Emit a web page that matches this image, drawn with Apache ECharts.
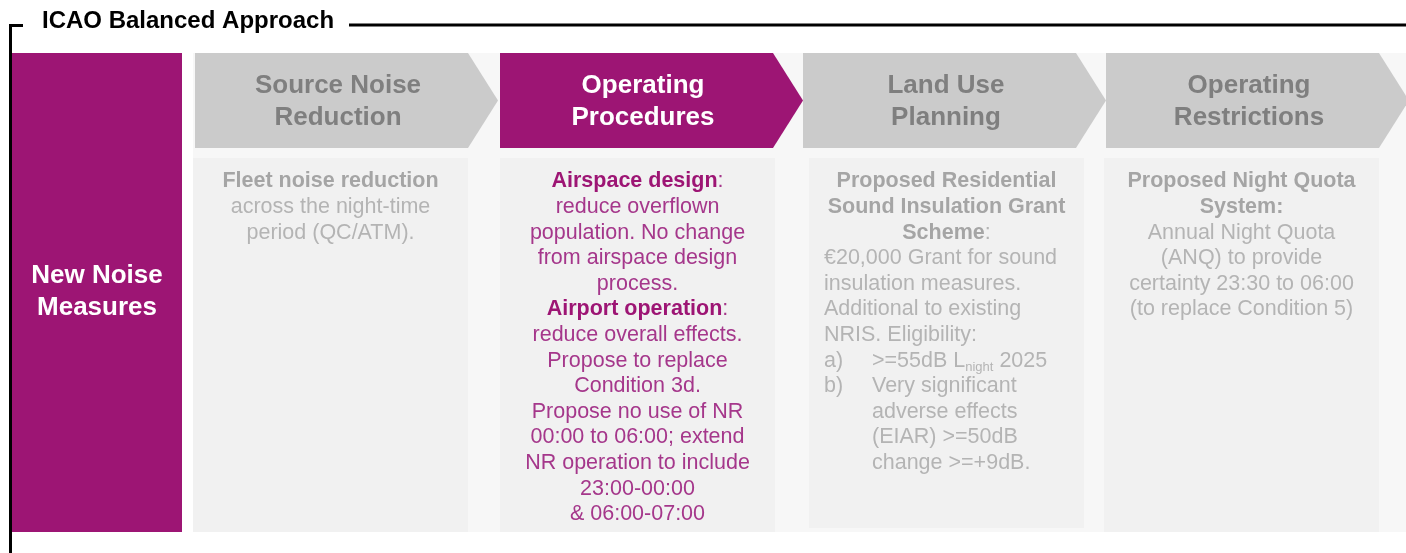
<!DOCTYPE html>
<html>
<head>
<meta charset="utf-8">
<script src="https://cdn.jsdelivr.net/npm/echarts@6/dist/echarts.min.js"></script>
<style>
  html, body { margin: 0; padding: 0; background: #fff; }
  #main { width: 1406px; height: 553px; }
</style>
</head>
<body>
<div id="main"></div>
<script>
// texts of the diagram
var frameTitle = 'ICAO Balanced Approach';
var rowLabel = 'New Noise\nMeasures';
var stages = ['Source Noise\nReduction', 'Operating\nProcedures', 'Land Use\nPlanning', 'Operating\nRestrictions'];
var highlighted = [false, true, false, false];

// one list of lines for each stage; a = c (centred), l (left), k (list key), i (indented)
var sourceLines = [
  { a: 'c', t: '{b|Fleet noise reduction}' },
  { a: 'c', t: 'across the night-time' },
  { a: 'c', t: 'period (QC/ATM).' }
];
var procedureLines = [
  { a: 'c', t: '{b|Airspace design}:' },
  { a: 'c', t: 'reduce overflown' },
  { a: 'c', t: 'population. No change' },
  { a: 'c', t: 'from airspace design' },
  { a: 'c', t: 'process.' },
  { a: 'c', t: '{b|Airport operation}:' },
  { a: 'c', t: 'reduce overall effects.' },
  { a: 'c', t: 'Propose to replace' },
  { a: 'c', t: 'Condition 3d.' },
  { a: 'c', t: 'Propose no use of NR' },
  { a: 'c', t: '00:00 to 06:00; extend' },
  { a: 'c', t: 'NR operation to include' },
  { a: 'c', t: '23:00-00:00' },
  { a: 'c', t: '& 06:00-07:00' }
];
var landUseLines = [
  { a: 'c', t: '{b|Proposed Residential}' },
  { a: 'c', t: '{b|Sound Insulation Grant}' },
  { a: 'c', t: '{b|Scheme}:' },
  { a: 'l', t: '€20,000 Grant for sound' },
  { a: 'l', t: 'insulation measures.' },
  { a: 'l', t: 'Additional to existing' },
  { a: 'l', t: 'NRIS. Eligibility:' },
  { a: 'k', k: 'a)', t: '>=55dB L{s|night} 2025' },
  { a: 'k', k: 'b)', t: 'Very significant' },
  { a: 'i', t: 'adverse effects' },
  { a: 'i', t: '(EIAR) >=50dB' },
  { a: 'i', t: 'change >=+9dB.' }
];
var restrictionLines = [
  { a: 'c', t: '{b|Proposed Night Quota}' },
  { a: 'c', t: '{b|System:}' },
  { a: 'c', t: 'Annual Night Quota' },
  { a: 'c', t: '(ANQ) to provide' },
  { a: 'c', t: 'certainty 23:30 to 06:00' },
  { a: 'c', t: '(to replace Condition 5)' }
];
var panelLines = [sourceLines, procedureLines, landUseLines, restrictionLines];

var purple = '#9D1574';
var FONT = '"Liberation Sans", Arial, Helvetica, sans-serif';

var chart = echarts.init(document.getElementById('main'));
var g = [];

// light background behind the columns
g.push({ type: 'rect', shape: { x: 193, y: 53, width: 1213, height: 479 }, style: { fill: '#F7F7F7' } });

// frame lines and title
g.push({ type: 'polyline', shape: { points: [[23, 25.5], [10.5, 25.5], [10.5, 553]] }, style: { stroke: '#000', lineWidth: 3, fill: null } });
g.push({ type: 'line', shape: { x1: 349, y1: 25, x2: 1406, y2: 25 }, style: { stroke: '#000', lineWidth: 3 } });
g.push({ type: 'text', x: 42, y: 21, style: { text: frameTitle, fontSize: 24, fontWeight: 'bold', fontFamily: FONT, fill: '#000', textAlign: 'left', textVerticalAlign: 'middle' } });

// row label
g.push({ type: 'rect', shape: { x: 12, y: 53, width: 170, height: 479 }, style: { fill: purple } });
g.push({ type: 'text', x: 97, y: 292, style: { text: rowLabel, fontSize: 26, fontWeight: 'bold', fontFamily: FONT, fill: '#fff', textAlign: 'center', textVerticalAlign: 'middle', lineHeight: 32 } });

var chevX = [195, 500, 803, 1106];
var panelX = [193, 500, 809, 1104];
var panelH = [374, 374, 370, 374];
var bodyW = 273, tip = 30, chevTop = 53, chevBot = 148;
var lineH = 25.6, firstLine = 181.5;

stages.forEach(function (name, i) {
  var x0 = chevX[i];
  var on = highlighted[i];
  g.push({
    type: 'polygon',
    shape: { points: [[x0, chevTop], [x0 + bodyW, chevTop], [x0 + bodyW + tip, (chevTop + chevBot) / 2], [x0 + bodyW, chevBot], [x0, chevBot]] },
    style: { fill: on ? purple : '#CBCBCB' }
  });
  g.push({
    type: 'text', x: x0 + 143, y: 101.5,
    style: { text: name, fontSize: 26, fontWeight: 'bold', fontFamily: FONT, fill: on ? '#fff' : '#7F7F7F', textAlign: 'center', textVerticalAlign: 'middle', lineHeight: 32 }
  });

  var px = panelX[i];
  g.push({ type: 'rect', shape: { x: px, y: 158, width: 275, height: panelH[i] }, style: { fill: '#F1F1F1' } });

  var boldCol = on ? purple : '#A5A5A5';
  var textCol = on ? '#A5378B' : '#B4B4B4';
  var rich = {
    b: { fontWeight: 'bold', fontSize: 21.5, fontFamily: FONT, fill: boldCol, lineHeight: lineH },
    s: { fontSize: 13, fontFamily: FONT, fill: textCol, verticalAlign: 'bottom', lineHeight: 14 }
  };
  panelLines[i].forEach(function (ln, j) {
    var y = firstLine + j * lineH;
    var x = px + 137.5, align = 'center';
    if (ln.a === 'l') { x = px + 15; align = 'left'; }
    if (ln.a === 'k' || ln.a === 'i') { x = px + 63; align = 'left'; }
    if (ln.a === 'k') {
      g.push({ type: 'text', x: px + 15, y: y, style: { text: ln.k, fontSize: 21.5, fontFamily: FONT, fill: textCol, textAlign: 'left', textVerticalAlign: 'middle' } });
    }
    g.push({
      type: 'text', x: x, y: y,
      style: { text: ln.t, fontSize: 21.5, fontFamily: FONT, fill: textCol, textAlign: align, textVerticalAlign: 'middle', lineHeight: lineH, rich: rich }
    });
  });
});

chart.setOption({
  animation: false,
  graphic: { elements: g }
});
</script>
</body>
</html>
